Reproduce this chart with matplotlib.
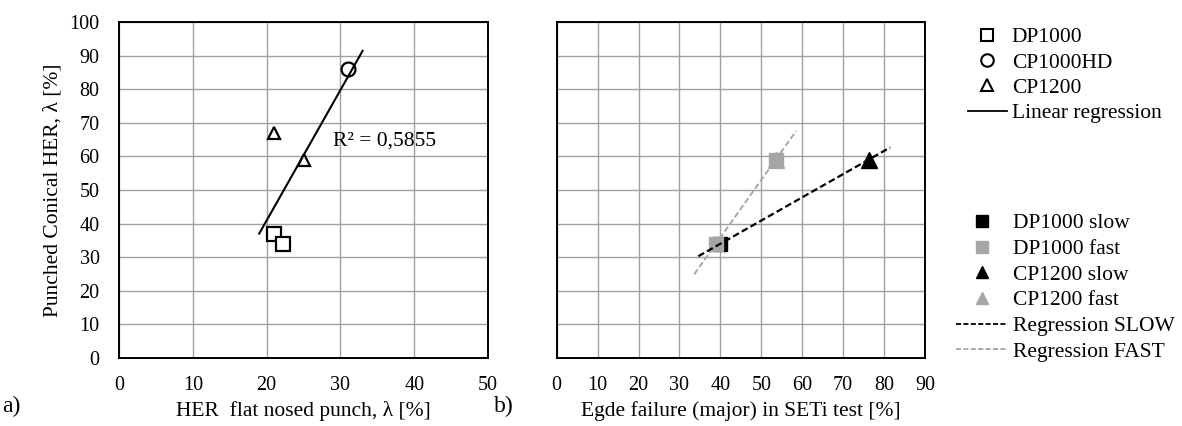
import numpy as np
import matplotlib
matplotlib.use("Agg")
import matplotlib.pyplot as plt
from matplotlib.lines import Line2D

plt.rcParams["font.family"] = ["Liberation Serif", "DejaVu Serif"]
plt.rcParams["font.size"] = 14

# panel a) flat punch HER vs punched conical HER
dp1000_x = [21.0, 22.2]
dp1000_y = [37.0, 34.0]
cp1000hd_x = [31.0]
cp1000hd_y = [86.0]
cp1200_x = [21.0, 25.0]
cp1200_y = [67.0, 59.0]
fit_a_range = [19.0, 33.0]
r2_label = "R² = 0,5855"

# panel b) edge failure in SETi test vs punched conical HER
dp_slow_x = [40.0]
dp_slow_y = [34.0]
dp_fast_x = [38.9, 53.5]
dp_fast_y = [34.0, 59.0]
cp_slow_x = [76.2]
cp_slow_y = [59.0]
cp_fast_x = [53.5]
cp_fast_y = [59.0]
slow_fit_range = [34.6, 81.5]
fast_fit_range = [33.6, 58.5]

GRID = "#a0a0a0"
LIGHT = "#a6a6a6"
LABEL_FS = 15.5


def style_axes(ax, xmax, xstep):
    ax.set_xlim(0, xmax)
    ax.set_ylim(0, 100)
    ax.set_xticks(np.arange(0, xmax + 1, xstep))
    ax.set_yticks(np.arange(0, 101, 10))
    ax.grid(True, color=GRID, linewidth=1.0)
    ax.set_axisbelow(True)
    ax.tick_params(length=0, labelsize=14.5)
    ax.tick_params(axis="x", pad=13)
    ax.tick_params(axis="y", pad=14)
    for s in ax.spines.values():
        s.set_linewidth(1.4)
        s.set_color("black")


fig = plt.figure(figsize=(11.82, 4.26), dpi=100)
ax1 = fig.add_axes([0.1007, 0.1596, 0.3122, 0.789])
ax2 = fig.add_axes([0.471, 0.1596, 0.3116, 0.789])

# --- panel a
style_axes(ax1, 50, 10)
all_x = np.array(dp1000_x + cp1000hd_x + cp1200_x)
all_y = np.array(dp1000_y + cp1000hd_y + cp1200_y)
k, b = np.polyfit(all_x, all_y, 1)
xa = np.array(fit_a_range)
ax1.plot(xa, k * xa + b, color="black", lw=1.5, zorder=3)
ax1.plot(dp1000_x, dp1000_y, "s", ms=10, mfc="white", mec="black", mew=1.6, zorder=4)
ax1.plot(cp1000hd_x, cp1000hd_y, "o", ms=10, mfc="none", mec="black", mew=1.6, zorder=4)
ax1.plot(cp1200_x, cp1200_y, "^", ms=9, mfc="white", mec="black", mew=1.6, zorder=4)
ax1.text(29.0, 64.5, r2_label, ha="left", va="center", fontsize=LABEL_FS)
ax1.set_xlabel("HER  flat nosed punch, λ [%]", fontsize=LABEL_FS, labelpad=4)
ax1.set_ylabel("Punched Conical HER, λ [%]", fontsize=LABEL_FS, labelpad=5)

# --- panel b
style_axes(ax2, 90, 10)
ax2.set_yticklabels([])
ax2.plot(cp_fast_x, cp_fast_y, "^", ms=11, color=LIGHT, zorder=2)
ax2.plot(dp_slow_x, dp_slow_y, "s", ms=10.5, color="black", zorder=3)
ax2.plot(cp_slow_x, cp_slow_y, "^", ms=11, color="black", zorder=3)
ax2.plot(dp_fast_x, dp_fast_y, "s", ms=10.5, color=LIGHT, zorder=4)

slow_x = np.array(dp_slow_x + cp_slow_x)
slow_y = np.array(dp_slow_y + cp_slow_y)
ks, bs = np.polyfit(slow_x, slow_y, 1)
xs = np.array(slow_fit_range)
ax2.plot(xs, ks * xs + bs, color="black", lw=1.6, ls=(0, (3, 1.5)), zorder=5)

fast_x = np.array(dp_fast_x)
fast_y = np.array(dp_fast_y)
kf, bf = np.polyfit(fast_x, fast_y, 1)
xf = np.array(fast_fit_range)
ax2.plot(xf, kf * xf + bf, color=LIGHT, lw=1.4, ls=(0, (3, 1.5)), zorder=3)
ax2.set_xlabel("Egde failure (major) in SETi test [%]", fontsize=LABEL_FS, labelpad=4)

fig.text(0.002, 0.045, "a)", fontsize=17, ha="left", va="center")
fig.text(0.418, 0.045, "b)", fontsize=17, ha="left", va="center")

# --- legends
h1 = [
    Line2D([], [], ls="none", marker="s", ms=9, mfc="white", mec="black", mew=1.5),
    Line2D([], [], ls="none", marker="o", ms=9, mfc="white", mec="black", mew=1.5),
    Line2D([], [], ls="none", marker="^", ms=8, mfc="white", mec="black", mew=1.5),
    Line2D([], [], color="black", lw=1.3),
]
l1 = ["DP1000", "CP1000HD", "CP1200", "Linear regression"]
fig.legend(h1, l1, loc="upper left", bbox_to_anchor=(0.819, 0.936),
           frameon=False, fontsize=LABEL_FS, handlelength=1.8, handletextpad=0.23,
           labelspacing=0.24, borderpad=0, borderaxespad=0)

h2 = [
    Line2D([], [], ls="none", marker="s", ms=9, color="black"),
    Line2D([], [], ls="none", marker="s", ms=9, color=LIGHT),
    Line2D([], [], ls="none", marker="^", ms=9, color="black"),
    Line2D([], [], ls="none", marker="^", ms=9, color=LIGHT),
    Line2D([], [], color="black", lw=1.3, ls=(0, (2.8, 1.3))),
    Line2D([], [], color=LIGHT, lw=1.3, ls=(0, (2.8, 1.3))),
]
l2 = ["DP1000 slow", "DP1000 fast", "CP1200 slow", "CP1200 fast",
      "Regression SLOW", "Regression FAST"]
fig.legend(h2, l2, loc="upper left", bbox_to_anchor=(0.8088, 0.499),
           frameon=False, fontsize=LABEL_FS, handlelength=2.42, handletextpad=0.23,
           labelspacing=0.26, borderpad=0, borderaxespad=0)

fig.savefig("out.png", dpi=100)
